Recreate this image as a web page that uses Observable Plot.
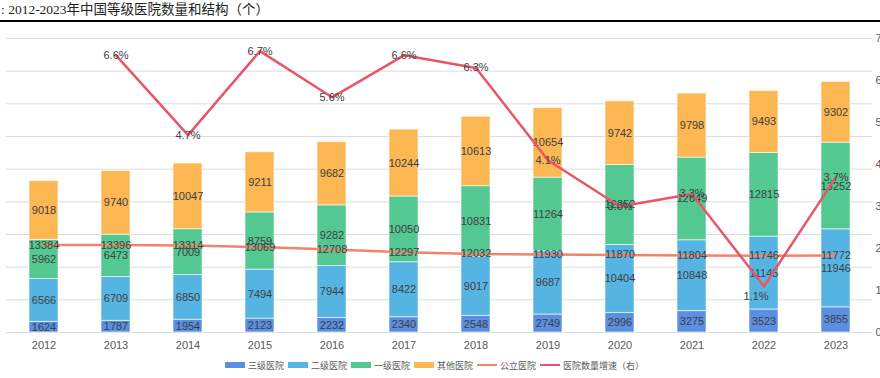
<!DOCTYPE html>
<html><head><meta charset="utf-8">
<script src="https://cdn.jsdelivr.net/npm/d3@7"></script>
<script src="https://cdn.jsdelivr.net/npm/@observablehq/plot@0.6"></script>
<style>
body{margin:0;background:#fff;width:880px;height:378px;overflow:hidden;font-family:"Liberation Sans","Noto Sans CJK SC",sans-serif;}
#title{height:20px;border-bottom:2px solid #000;font-family:"Liberation Serif","Noto Sans CJK SC",serif;font-size:13.5px;line-height:20px;padding-left:1px;color:#222;white-space:nowrap}
#chart svg{display:block;overflow:visible}
#legend{display:flex;justify-content:flex-start;align-items:center;height:14px;font-size:9px;color:#595959;font-family:"Noto Sans CJK SC",sans-serif;padding-left:223px}
#legend .it{display:flex;align-items:center;margin:0 2px;white-space:nowrap}
#legend .sw{width:20px;height:6px;margin-right:3px}
#legend .ln{width:20px;height:2px;margin-right:3px}
</style></head>
<body>
<div id="title">: 2012-2023年中国等级医院数量和结构（个）</div>
<div id="chart"></div>
<div id="legend"></div>
<script>
const years = ["2012","2013","2014","2015","2016","2017","2018","2019","2020","2021","2022","2023"];
const seriesNames = ["三级医院","二级医院","一级医院","其他医院"];
const tier3 = [1624,1787,1954,2123,2232,2340,2548,2749,2996,3275,3523,3855];
const tier2 = [6566,6709,6850,7494,7944,8422,9017,9687,10404,10848,11145,11946];
const tier1 = [5962,6473,7009,8759,9282,10050,10831,11264,12252,12649,12815,13252];
const other = [9018,9740,10047,9211,9682,10244,10613,10654,9742,9798,9493,9302];
const publicHosp = [13384,13396,13314,13069,12708,12297,12032,11930,11870,11804,11746,11772];
const growthYears = ["2013","2014","2015","2016","2017","2018","2019","2020","2021","2022","2023"];
const growth = [6.6,4.7,6.7,5.6,6.6,6.3,4.1,3.0,3.3,1.1,3.7];
const leftMax = 45000, leftStep = 5000, rightMax = 7;

const colors = ["#5B8FE3","#56B4E3","#53C891","#FDB753"];
const publicColor = "#F2836B", growthColor = "#E8566A";

const seriesVals = [tier3, tier2, tier1, other];
const rows = [];
seriesNames.forEach((s, i) => years.forEach((y, j) => rows.push({year: y, series: s, value: seriesVals[i][j]})));
const pubRows = years.map((y, j) => ({year: y, value: publicHosp[j]}));
const gRows = growthYears.map((y, j) => ({year: y, g: growth[j]}));
const toLeft = v => v * leftMax / rightMax;
const gMin = d3.min(growth);

const plot = Plot.plot({
  width: 880, height: 336,
  marginLeft: 6, marginRight: 8, marginTop: 16, marginBottom: 26,
  x: {type: "band", domain: years, paddingInner: 0.6, paddingOuter: 0.3, axis: null, label: null},
  y: {domain: [0, leftMax], axis: null, label: null},
  color: {domain: seriesNames, range: colors},
  style: {fontFamily: '"Liberation Sans","Noto Sans CJK SC",sans-serif', fontSize: "11px", overflow: "visible"},
  marks: [
    Plot.gridY(d3.range(0, leftMax + 1, leftStep), {stroke: "#dcdcdc", strokeOpacity: 1}),
    Plot.barY(rows, {x: "year", y: "value", z: "series", fill: "series", order: seriesNames, stroke: "#fff", strokeOpacity: 0.6, strokeWidth: 1}),
    Plot.text(rows, Plot.stackY({x: "year", y: "value", z: "series", order: seriesNames, text: d => String(d.value), fill: "#404040"})),
    Plot.line(pubRows, {x: "year", y: "value", stroke: publicColor, strokeWidth: 2.5}),
    Plot.text(pubRows, {x: "year", y: "value", text: d => String(d.value), fill: "#404040"}),
    Plot.line(gRows, {x: "year", y: d => toLeft(d.g), stroke: growthColor, strokeWidth: 2.5}),
    Plot.text(gRows, {filter: d => d.g !== gMin, x: "year", y: d => toLeft(d.g), text: d => d.g.toFixed(1) + "%", fill: "#404040"}),
    Plot.text(gRows, {filter: d => d.g === gMin, x: "year", y: d => toLeft(d.g), text: d => d.g.toFixed(1) + "%", fill: "#404040", dy: 10, dx: -8}),
    Plot.axisX({tickSize: 0, tickPadding: 9, fill: "#595959", label: null}),
    Plot.axisY(d3.range(0, rightMax + 1).map(toLeft), {anchor: "right", tickSize: 0, tickPadding: 3, fill: "#595959", label: null, tickFormat: d => Math.round(d * rightMax / leftMax) + "%"})
  ]
});
document.getElementById("chart").appendChild(plot);

const legend = document.getElementById("legend");
seriesNames.forEach((s, i) => {
  const it = document.createElement("div"); it.className = "it";
  it.innerHTML = `<span class="sw" style="background:${colors[i]}"></span><span>${s}</span>`;
  legend.appendChild(it);
});
[["公立医院", publicColor], ["医院数量增速（右）", growthColor]].forEach(([s, c]) => {
  const it = document.createElement("div"); it.className = "it";
  it.innerHTML = `<span class="ln" style="background:${c}"></span><span>${s}</span>`;
  legend.appendChild(it);
});
</script>
</body></html>
